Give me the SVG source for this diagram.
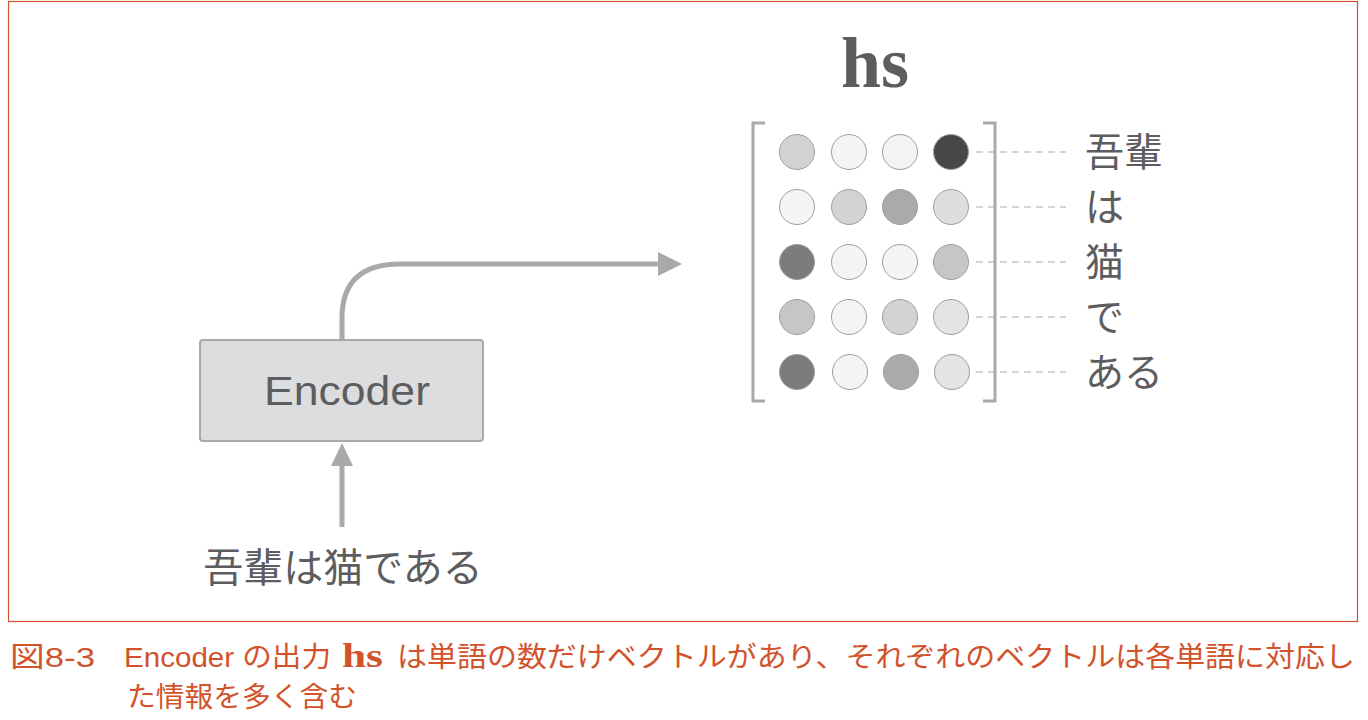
<svg xmlns="http://www.w3.org/2000/svg" width="1368" height="720" viewBox="0 0 1368 720">
<defs>
<style>
.t{font-family:"Liberation Sans","Noto Sans CJK JP",sans-serif;fill:#5d5d5f}
.cap{font-family:"Liberation Sans","Noto Sans CJK JP",sans-serif;fill:#d2522c;font-size:28px}
.c{stroke:#9d9ea0;stroke-width:1}
.dash{stroke:#a8a9ab;stroke-width:1.2;stroke-dasharray:7 5;fill:none}
.br{stroke:#a8a9ab;stroke-width:3;fill:none}
.conn{stroke:#a8a9ab;stroke-width:5;fill:none}
</style>
<marker id="ah" markerUnits="userSpaceOnUse" viewBox="0 0 24 24" refX="1" refY="12" markerWidth="24" markerHeight="24" orient="auto">
<path d="M0,0 L24,12 L0,24 z" fill="#a8a9ab"/>
</marker>
</defs>
<rect width="1368" height="720" fill="#fff"/>
<rect x="8.5" y="1.5" width="1349" height="620" fill="none" stroke="#d2522c" stroke-width="1.2"/>

<g id="connectors">
<path class="conn" d="M342,340 L342,318 Q342,264 400,264 L659,264" marker-end="url(#ah)"/>
<path class="conn" d="M342,527 L342,462" />
<path d="M331,466 L342,443 L353,466 z" fill="#a8a9ab"/>
</g>

<g id="encoder">
<rect x="200" y="340" width="283" height="101" rx="3" fill="#dcdddf" stroke="#a8a9ab" stroke-width="2"/>
<text class="t" x="347" y="405" font-size="41" text-anchor="middle" textLength="166" lengthAdjust="spacingAndGlyphs">Encoder</text>
</g>

<g id="input">
<text class="t" x="343" y="582" font-size="40" text-anchor="middle">吾輩は猫である</text>
</g>

<g id="hs">
<text x="875" y="87" font-family="Liberation Serif,serif" font-weight="bold" font-size="72" fill="#5d5d5f" text-anchor="middle">hs</text>
<path class="br" d="M765,123 L753,123 L753,401 L765,401"/>
<path class="br" d="M983,123 L995,123 L995,401 L983,401"/>
<g id="row1">
<circle class="c" cx="797" cy="152" r="17.5" fill="#d2d3d5"/>
<circle class="c" cx="849" cy="152" r="17.5" fill="#f4f4f4"/>
<circle class="c" cx="900" cy="152" r="17.5" fill="#f4f4f4"/>
<circle class="c" cx="951" cy="152" r="17.5" fill="#474747"/>
</g>
<g id="row2">
<circle class="c" cx="797" cy="207" r="17.5" fill="#f4f4f4"/>
<circle class="c" cx="849" cy="207" r="17.5" fill="#d2d3d5"/>
<circle class="c" cx="900" cy="207" r="17.5" fill="#a9aaac"/>
<circle class="c" cx="951" cy="207" r="17.5" fill="#dcdddf"/>
</g>
<g id="row3">
<circle class="c" cx="797" cy="262" r="17.5" fill="#7b7c7e"/>
<circle class="c" cx="849" cy="262" r="17.5" fill="#f4f4f4"/>
<circle class="c" cx="900" cy="262" r="17.5" fill="#f4f4f4"/>
<circle class="c" cx="951" cy="262" r="17.5" fill="#c5c6c8"/>
</g>
<g id="row4">
<circle class="c" cx="797" cy="317" r="17.5" fill="#c5c6c8"/>
<circle class="c" cx="849" cy="317" r="17.5" fill="#f4f4f4"/>
<circle class="c" cx="900" cy="317" r="17.5" fill="#d2d3d5"/>
<circle class="c" cx="951" cy="317" r="17.5" fill="#e3e4e5"/>
</g>
<g id="row5">
<circle class="c" cx="797" cy="372" r="17.5" fill="#7b7c7e"/>
<circle class="c" cx="850" cy="372" r="17.5" fill="#f4f4f4"/>
<circle class="c" cx="901" cy="372" r="17.5" fill="#a9aaac"/>
<circle class="c" cx="952" cy="372" r="17.5" fill="#e3e4e5"/>
</g>
</g>

<g id="labels">
<path class="dash" d="M976,152 L1066,152 M976,207 L1066,207 M976,262 L1066,262 M976,317 L1066,317 M976,372 L1066,372"/>
<text class="t" x="1085" y="166" font-size="39">吾輩</text>
<text class="t" x="1085" y="221" font-size="39">は</text>
<text class="t" x="1085" y="276" font-size="39">猫</text>
<text class="t" x="1085" y="331" font-size="39">で</text>
<text class="t" x="1085" y="386" font-size="39">ある</text>
</g>

<g id="caption">
<text class="cap" x="10" y="667" textLength="85" lengthAdjust="spacingAndGlyphs">図8-3</text>
<text class="cap" x="124" y="667" textLength="207" lengthAdjust="spacingAndGlyphs">Encoder の出力</text>
<text x="342" y="667" font-family="Liberation Serif,serif" font-weight="bold" font-size="34" fill="#d2522c" textLength="41" lengthAdjust="spacingAndGlyphs">hs</text>
<text class="cap" x="397" y="667" textLength="958" lengthAdjust="spacingAndGlyphs">は単語の数だけベクトルがあり、それぞれのベクトルは各単語に対応し</text>
<text class="cap" x="127" y="707" textLength="230" lengthAdjust="spacingAndGlyphs">た情報を多く含む</text>
</g>
</svg>
